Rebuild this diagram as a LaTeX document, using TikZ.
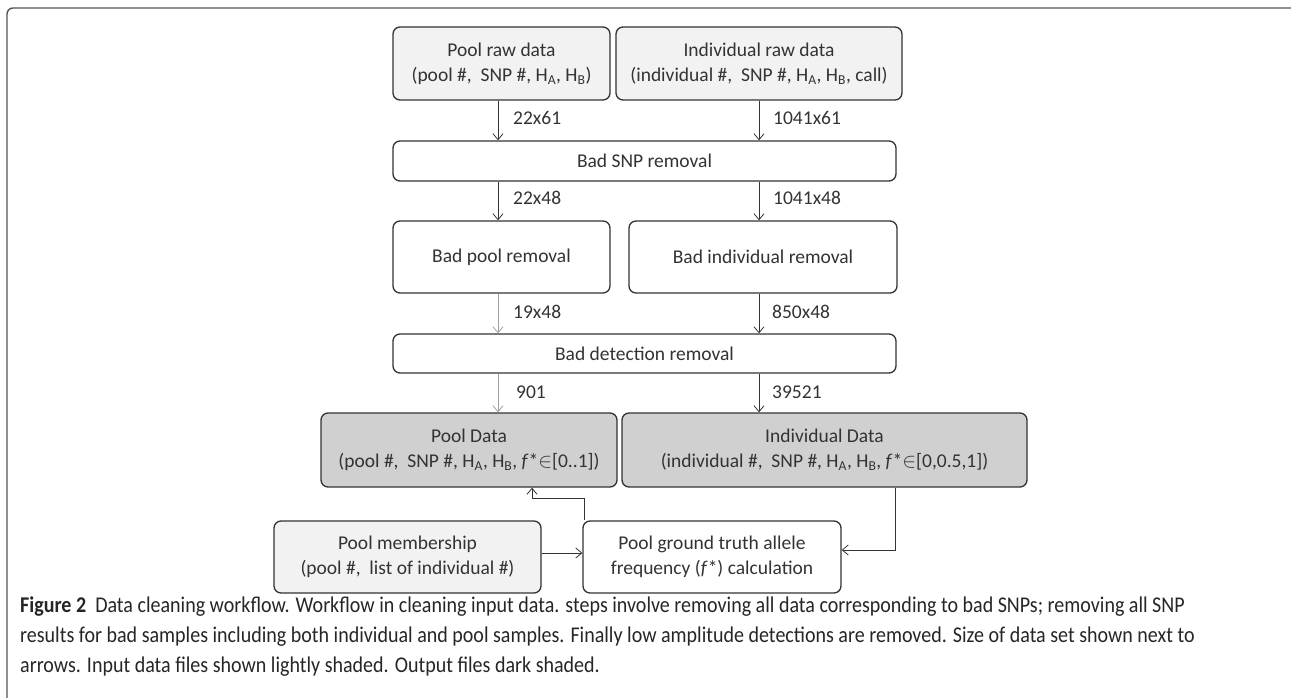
\documentclass[tikz,border=0pt]{standalone}
\usepackage{fontspec}
\setmainfont{Carlito}
\newfontfamily\capfont[FakeStretch=0.89]{Carlito}
\usetikzlibrary{arrows.meta}
\definecolor{ink}{HTML}{333333}
\definecolor{lightfill}{HTML}{F2F2F2}
\definecolor{darkfill}{HTML}{D0D0D0}
\definecolor{frame}{HTML}{555555}
\definecolor{lightarrow}{HTML}{A0A0A0}
\begin{document}
\begin{tikzpicture}[x=1pt,y=-1pt,
  box/.style={draw=ink,line width=1.3pt,rounded corners=7pt,align=center,text=ink,font=\fontsize{19.5}{25}\selectfont,inner sep=0pt},
  infile/.style={box,fill=lightfill},
  outfile/.style={box,fill=darkfill},
  stepbox/.style={box,fill=white},
  arr/.style={draw=ink,line width=0.8pt,-{Straight Barb[length=6pt,width=10pt]}},
  larr/.style={arr,draw=lightarrow},
  lab/.style={anchor=west,text=ink,font=\fontsize{19.5}{22}\selectfont,inner sep=0pt}]
\useasboundingbox (0,0) rectangle (1291,698);
\draw[frame,line width=1.4pt,rounded corners=6pt] (7,702) -- (7,8) -- (1296,8);

\node[infile,minimum width=217pt,minimum height=73pt] (praw) at (501.5,63.5) {Pool raw data\\(pool \#,\ \ SNP \#, H\textsubscript{A}, H\textsubscript{B})};
\node[infile,minimum width=286pt,minimum height=73pt] (iraw) at (759,63.5) {Individual raw data\\(individual \#,\ \ SNP \#, H\textsubscript{A}, H\textsubscript{B}, call)};
\node[stepbox,minimum width=503pt,minimum height=40pt] (snp) at (644.5,161) {Bad SNP removal};
\node[stepbox,minimum width=217pt,minimum height=72pt] (bpool) at (501.5,257) {Bad pool removal};
\node[stepbox,minimum width=268pt,minimum height=72pt] (bind) at (763,257) {Bad individual removal};
\node[stepbox,minimum width=503pt,minimum height=39pt] (bdet) at (644.5,353.5) {Bad detection removal};
\node[outfile,minimum width=296pt,minimum height=74pt] (pdata) at (469,450) {Pool Data\\(pool \#,\ \ SNP \#, H\textsubscript{A}, H\textsubscript{B}, \textit{f}*$\in$[0..1])};
\node[outfile,minimum width=405pt,minimum height=74pt] (idata) at (824.5,450) {Individual Data\\(individual \#,\ \ SNP \#, H\textsubscript{A}, H\textsubscript{B}, \textit{f}*$\in$[0,0.5,1])};
\node[infile,minimum width=267pt,minimum height=72pt] (pmem) at (407.5,557) {Pool membership\\(pool \#,\ \ list of individual \#)};
\node[stepbox,minimum width=258pt,minimum height=72pt] (gt) at (712,557) {Pool ground truth allele\\frequency (\textit{f}*) calculation};

\coordinate (cl) at (498,0);
\coordinate (cr) at (759,0);
\draw[arr] (praw.south -| cl) -- (snp.north -| cl);
\draw[arr] (iraw.south -| cr) -- (snp.north -| cr);
\draw[arr] (snp.south -| cl) -- (bpool.north -| cl);
\draw[arr] (snp.south -| cr) -- (bind.north -| cr);
\draw[larr] (bpool.south -| cl) -- (bdet.north -| cl);
\draw[arr] (bind.south -| cr) -- (bdet.north -| cr);
\draw[larr] (bdet.south -| cl) -- (pdata.north -| cl);
\draw[arr] (bdet.south -| cr) -- (idata.north -| cr);

\node[lab] (l1) at (513,118) {22x61};
\node[lab] (l2) at (773,118) {1041x61};
\node[lab] (l3) at (513,198) {22x48};
\node[lab] (l4) at (773,198) {1041x48};
\node[lab] (l5) at (513,312) {19x48};
\node[lab] (l6) at (772,312) {850x48};
\node[lab] (l7) at (516,392) {901};
\node[lab] (l8) at (772,392) {39521};

\coordinate (j1) at (584,498);
\coordinate (j2) at (532,498);
\draw[arr] (gt.north -| j1) -- (j1) -- (j2) -- (pdata.south -| j2);
\coordinate (k1) at (895,0);
\draw[arr] (idata.south -| k1) |- ([yshift=7pt]gt.east);
\draw[arr] ([yshift=4pt]pmem.east) -- ([yshift=4pt]gt.west);

\node[anchor=north west,align=left,inner sep=0pt,text=black!85,font=\capfont\fontsize{22.5}{30}\selectfont] (cap) at (20,597)
{\textbf{Figure 2}\ \ Data cleaning workflow. Workflow in cleaning input data. steps involve removing all data corresponding to bad SNPs; removing all SNP\\
results for bad samples including both individual and pool samples. Finally low amplitude detections are removed. Size of data set shown next to\\
arrows. Input data files shown lightly shaded. Output files dark shaded.};
\end{tikzpicture}
\end{document}
